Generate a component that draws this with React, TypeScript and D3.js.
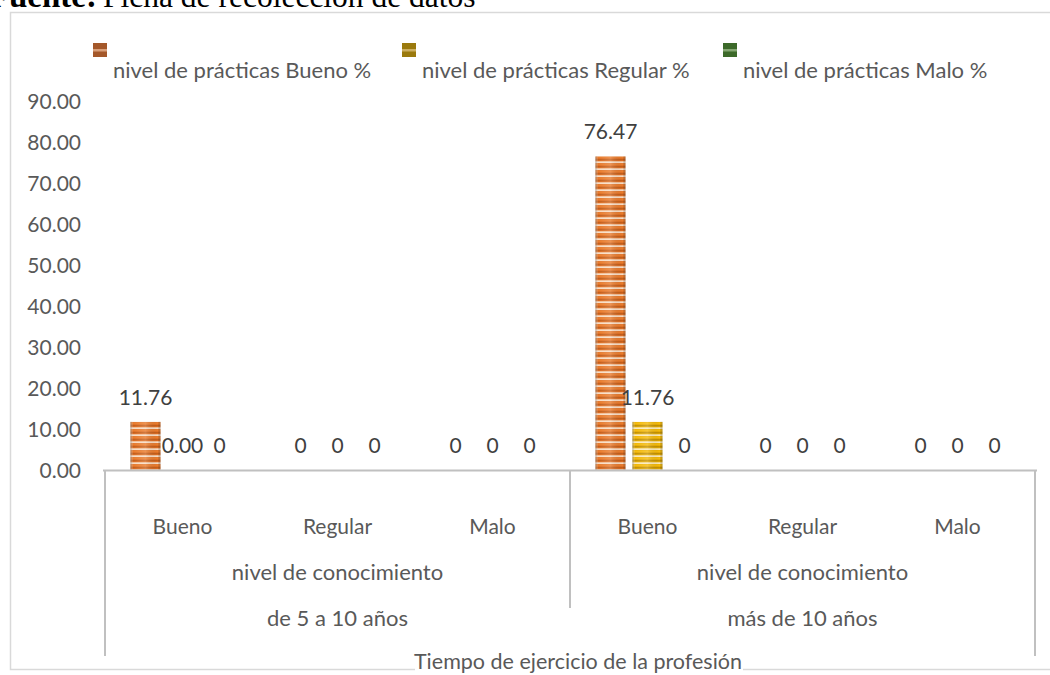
import React from "react";
import * as d3 from "d3";

// Category axis (three levels) and chart text
const categoryLabels = ["Bueno", "Regular", "Malo", "Bueno", "Regular", "Malo"];
const groupLabels = ["de 5 a 10 años", "más de 10 años"];
const groupSubtitle = "nivel de conocimiento";
const axisTitle = "Tiempo de ejercicio de la profesión";
const sourcePrefix = "Fuente:";
const sourceText = "Ficha de recolección de datos";

// Series
const seriesNames = [
  "nivel de prácticas Bueno %",
  "nivel de prácticas Regular %",
  "nivel de prácticas Malo %",
];
const buenoValues = [11.76, 0, 0, 76.47, 0, 0];
const regularValues = [0, 0, 0, 11.76, 0, 0];
const maloValues = [0, 0, 0, 0, 0, 0];
// points whose data label is shown with two decimals
const buenoTwoDecimals = [false, false, false, false, false, false];
const regularTwoDecimals = [true, false, false, false, false, false];
const maloTwoDecimals = [false, false, false, false, false, false];

const yTicks = [0, 10, 20, 30, 40, 50, 60, 70, 80, 90];

const W = 1050;
const H = 675;
const FONT = "Lato, 'Open Sans', sans-serif";
const SERIF = "'Liberation Serif', 'Times New Roman', serif";
const TEXT = "#595959";
const AXIS = "#c0c0c0";

type Palette = { rows: string[]; marker: string; markerStripe: string };
const palettes: Palette[] = [
  {
    rows: ["#f0bd95", "#f8dcc4", "#e47a30", "#ea7d2c", "#e07026", "#c45f1a", "#d86a22"],
    marker: "#a4582a",
    markerStripe: "#d9a07a",
  },
  {
    rows: ["#f4d782", "#faeabb", "#f0b606", "#f5bc0c", "#e8ad04", "#c39100", "#d9a302"],
    marker: "#9b7a10",
    markerStripe: "#cdb062",
  },
  {
    rows: ["#9cc487", "#c9e0bc", "#5f9c45", "#64a24a", "#58943e", "#3f7a2b", "#4e8a36"],
    marker: "#3d6b2a",
    markerStripe: "#86a873",
  },
];

export default function App() {
  const series = [
    { name: seriesNames[0], values: buenoValues, two: buenoTwoDecimals },
    { name: seriesNames[1], values: regularValues, two: regularTwoDecimals },
    { name: seriesNames[2], values: maloValues, two: maloTwoDecimals },
  ];

  const plotLeft = 105;
  const plotRight = 1035;
  const y = d3.scaleLinear().domain([0, 90]).range([470, 101]);
  const x0 = d3
    .scaleBand<number>()
    .domain(categoryLabels.map((_, i) => i))
    .range([plotLeft, plotRight])
    .padding(0);
  const x1 = d3
    .scaleBand<number>()
    .domain(series.map((_, i) => i))
    .range([0, x0.bandwidth()])
    .paddingInner(0.189)
    .paddingOuter(0.69);

  const yFmt = d3.format(".2f");
  const general = (v: number) => d3.format("~f")(v);
  const baseY = y(0);

  const groupSize = 3;
  const groupX = (g: number) => {
    const a = x0(g * groupSize)!;
    const b = x0(g * groupSize + groupSize - 1)! + x0.bandwidth();
    return [a, b];
  };

  const legendX = [93, 402, 723];

  return (
    <svg
      width={W}
      height={H}
      style={{ position: "absolute", left: 0, top: 0, display: "block", background: "#fff" }}
      fontFamily={FONT}
    >
      <defs>
        {palettes.map((p, i) => (
          <pattern
            key={i}
            id={`stripes${i}`}
            patternUnits="userSpaceOnUse"
            width={8}
            height={p.rows.length}
          >
            {p.rows.map((c, r) => (
              <rect key={r} x={0} y={r} width={8} height={1} fill={c} />
            ))}
          </pattern>
        ))}
        <linearGradient id="barShade" x1="0" y1="0" x2="1" y2="0">
          <stop offset="0" stopColor="#6e6e6e" stopOpacity={0.55} />
          <stop offset="0.1" stopColor="#ffffff" stopOpacity={0.0} />
          <stop offset="0.5" stopColor="#ffffff" stopOpacity={0.18} />
          <stop offset="0.9" stopColor="#000000" stopOpacity={0.0} />
          <stop offset="1" stopColor="#5a5a5a" stopOpacity={0.35} />
        </linearGradient>
        <filter id="soft" x="-20%" y="-20%" width="140%" height="140%">
          <feGaussianBlur stdDeviation="0.6" />
        </filter>
      </defs>

      {/* chart frame */}
      <rect x={10.5} y={12.5} width={1060} height={657} fill="none" stroke="#d9d9d9" strokeWidth={1.5} />

      {/* source line */}
      <text x={97} y={7} fontFamily={SERIF} fontSize={33} fontWeight="bold" fill="#000" textAnchor="end">
        {sourcePrefix}
      </text>
      <text x={103} y={7} fontFamily={SERIF} fontSize={31.5} fill="#000">
        {sourceText}
      </text>

      {/* legend */}
      {series.map((s, i) => (
        <g key={s.name}>
          <g filter="url(#soft)">
            <rect x={legendX[i]} y={43} width={14} height={14} fill={palettes[i].marker} />
            <rect x={legendX[i]} y={49} width={14} height={2.5} fill={palettes[i].markerStripe} />
          </g>
          <text x={legendX[i] + 20} y={78} fontSize={22} fill={TEXT}>
            {s.name}
          </text>
        </g>
      ))}

      {/* value axis labels */}
      {yTicks.map((t) => (
        <text key={t} x={81} y={y(t) + 7.5} fontSize={21} fill={TEXT} textAnchor="end">
          {yFmt(t)}
        </text>
      ))}

      {/* bars */}
      {series.map((s, si) =>
        s.values.map((v, ci) => {
          const bx = x0(ci)! + x1(si)!;
          const by = y(v);
          const h = baseY - by;
          if (h <= 0) return null;
          return (
            <g key={`b${si}-${ci}`}>
              <rect x={bx} y={by} width={x1.bandwidth()} height={h} fill={`url(#stripes${si})`} />
              <rect x={bx} y={by} width={x1.bandwidth()} height={h} fill="url(#barShade)" />
            </g>
          );
        })
      )}

      {/* data labels */}
      {series.map((s, si) =>
        s.values.map((v, ci) => {
          const cx = x0(ci)! + x1(si)! + x1.bandwidth() / 2;
          return (
            <text
              key={`l${si}-${ci}`}
              x={cx}
              y={y(v) - 17}
              fontSize={21}
              fill="#404040"
              textAnchor="middle"
            >
              {s.two[ci] ? yFmt(v) : general(v)}
            </text>
          );
        })
      )}

      {/* category axis lines */}
      <line x1={plotLeft - 2} x2={plotRight + 2} y1={baseY + 0.5} y2={baseY + 0.5} stroke={AXIS} strokeWidth={2} />
      <line x1={plotLeft} x2={plotLeft} y1={baseY} y2={656} stroke={AXIS} strokeWidth={2} />
      <line x1={plotRight} x2={plotRight} y1={baseY} y2={656} stroke={AXIS} strokeWidth={2} />
      <line
        x1={groupX(0)[1]}
        x2={groupX(0)[1]}
        y1={baseY}
        y2={608}
        stroke={AXIS}
        strokeWidth={2}
      />

      {/* level 1 labels */}
      {categoryLabels.map((c, i) => (
        <text key={`c${i}`} x={x0(i)! + x0.bandwidth() / 2} y={534} fontSize={21} fill={TEXT} textAnchor="middle">
          {c}
        </text>
      ))}

      {/* level 2 and 3 labels */}
      {groupLabels.map((g, gi) => {
        const [a, b] = groupX(gi);
        const cx = (a + b) / 2;
        return (
          <g key={g}>
            <text x={cx} y={580} fontSize={22} fill={TEXT} textAnchor="middle">
              {groupSubtitle}
            </text>
            <text x={cx} y={626} fontSize={22} fill={TEXT} textAnchor="middle">
              {g}
            </text>
          </g>
        );
      })}

      {/* axis title over the frame */}
      <rect x={415} y={660} width={328} height={15} fill="#fff" />
      <text x={578} y={669} fontSize={21.5} fill={TEXT} textAnchor="middle">
        {axisTitle}
      </text>
    </svg>
  );
}
